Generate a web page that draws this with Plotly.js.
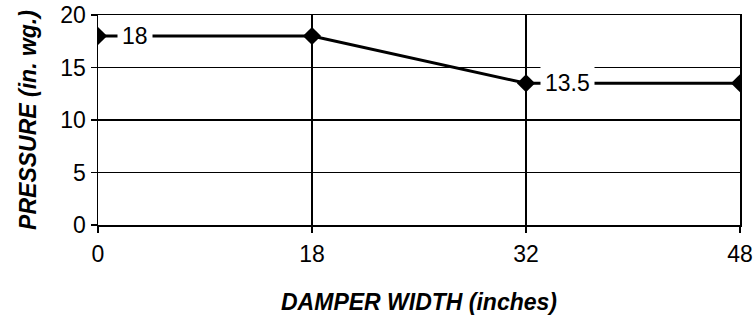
<!DOCTYPE html>
<html>
<head>
<meta charset="utf-8">
<script src="https://cdn.plot.ly/plotly-3.0.1.min.js"></script>
<style>html,body{margin:0;padding:0;background:#fff;}#chart{width:753px;height:318px;}</style>
</head>
<body>
<div id="chart"></div>
<script>
const damperWidth = ['0', '18', '32', '48'];
const pressure = [18, 18, 13.5, 13.5];
const labelIndex = [0, 2];
const yTicks = [0, 5, 10, 15, 20];

const FONT = 'Liberation Sans, Arial, sans-serif';

const trace = {
  x: damperWidth,
  y: pressure,
  type: 'scatter',
  mode: 'lines+markers',
  line: {color: '#000', width: 3},
  marker: {symbol: 'diamond', size: 14, color: '#000'},
  hoverinfo: 'skip'
};

const annotations = labelIndex.map(i => ({
  x: i,
  y: pressure[i],
  xref: 'x', yref: 'y',
  text: String(pressure[i]),
  showarrow: false,
  xshift: i === 0 ? 37 : 41,
  bgcolor: '#fff',
  borderpad: 4,
  font: {family: FONT, size: 23, color: '#000'}
}));

const layout = {
  width: 753, height: 318,
  margin: {l: 98, r: 13, t: 15, b: 93},
  paper_bgcolor: '#fff', plot_bgcolor: '#fff',
  showlegend: false,
  font: {family: FONT, size: 23, color: '#000'},
  xaxis: {
    type: 'category',
    range: [0, 3],
    showgrid: true, gridcolor: '#000', gridwidth: 1.5,
    showline: true, mirror: true, linecolor: '#000', linewidth: 1.5,
    ticks: 'outside', ticklen: 6, tickcolor: '#000', tickwidth: 1.5,
    ticklabelstandoff: 2,
    tickfont: {family: FONT, size: 23, color: '#000'},
    zeroline: false,
    automargin: false,
    title: {text: '<b><i>DAMPER WIDTH (inches)</i></b>', font: {family: FONT, size: 23, color: '#000'}, standoff: 28}
  },
  yaxis: {
    range: [0, 20],
    tickvals: yTicks,
    showgrid: true, gridcolor: '#000', gridwidth: 1.5,
    showline: true, mirror: true, linecolor: '#000', linewidth: 1.5,
    ticks: 'outside', ticklen: 6, tickcolor: '#000', tickwidth: 1.5,
    tickfont: {family: FONT, size: 23, color: '#000'},
    zeroline: false,
    automargin: false,
    title: {text: '<b><i>PRESSURE (in. wg.)</i></b>', font: {family: FONT, size: 23, color: '#000'}, standoff: 17}
  },
  annotations: annotations
};

Plotly.newPlot('chart', [trace], layout, {staticPlot: true, displayModeBar: false});
</script>
</body>
</html>
